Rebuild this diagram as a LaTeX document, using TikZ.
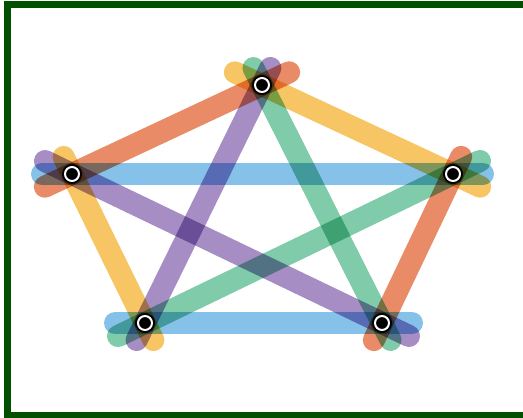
\documentclass[tikz,border=0pt]{standalone}
\usetikzlibrary{positioning}
\definecolor{frm}{RGB}{0,80,0}
\definecolor{byel}{RGB}{245,178,48}
\definecolor{bred}{RGB}{226,100,52}
\definecolor{bblu}{RGB}{92,172,226}
\definecolor{bpur}{RGB}{136,104,178}
\definecolor{bgrn}{RGB}{84,186,142}

\begin{document}
\begin{tikzpicture}[
  x=1pt, y=-1pt,
  band/.style={line width=22pt, line cap=round, draw opacity=0.75,
               blend mode=multiply},
  longband/.style={band, shorten <=-30pt, shorten >=-30pt},
  shortband/.style={band, shorten <=-19pt, shorten >=-19pt},
  ring/.style={circle, fill=black, draw=white, line width=2pt,
               minimum size=14pt, inner sep=0pt,
               preaction={draw=black, line width=6pt}},
]
\useasboundingbox (0,0) rectangle (523,418);

%% ---- frame ----
\draw[frm, line width=7pt] (7.5,4.5) rectangle (526,415);

%% ---- vertices ----
\coordinate (top) at (262,85);
\coordinate (lft) at (72,174);
\coordinate (rgt) at (453,174);
\coordinate (bl)  at (145,323);
\coordinate (br)  at (382,323);

%% ---- bands: two per colour ----
\draw[longband, byel]  (rgt) -- (top);
\draw[shortband, byel] (lft) -- (bl);
\draw[longband, bred]  (top) -- (lft);
\draw[shortband, bred] (rgt) -- (br);
\draw[longband, bblu]  (lft) -- (rgt);
\draw[longband, bblu]  (bl) -- (br);
\draw[shortband, bpur] (top) -- (bl);
\draw[longband, bpur]  (lft) -- (br);
\draw[shortband, bgrn] (top) -- (br);
\draw[longband, bgrn]  (rgt) -- (bl);

%% ---- markers ----
\node[ring] (mtop) at (top) {};
\node[ring] (mlft) at (lft) {};
\node[ring] (mrgt) at (rgt) {};
\node[ring] (mbl)  at (bl)  {};
\node[ring] (mbr)  at (br)  {};

\end{tikzpicture}
\end{document}
